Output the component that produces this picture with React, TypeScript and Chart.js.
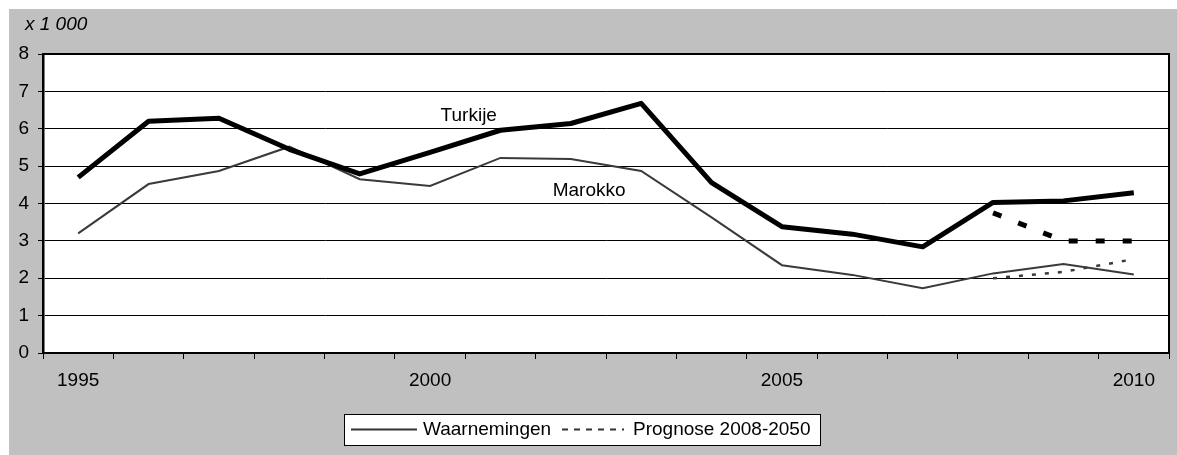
import React, { useEffect, useRef } from "react";
import { Chart, registerables } from "chart.js";

Chart.register(...registerables);

const years = [
  "1995", "1996", "1997", "1998", "1999", "2000", "2001", "2002",
  "2003", "2004", "2005", "2006", "2007", "2008", "2009", "2010",
];
const shownYearLabels = ["1995", "2000", "2005", "2010"];
const turkije = [4.7, 6.2, 6.28, 5.45, 4.79, 5.37, 5.96, 6.14, 6.68, 4.56, 3.38, 3.18, 2.84, 4.03, 4.07, 4.29];
const marokko = [3.2, 4.52, 4.87, 5.52, 4.65, 4.47, 5.22, 5.19, 4.87, 3.63, 2.35, 2.09, 1.73, 2.13, 2.38, 2.1];
const turkijePrognose = [null, null, null, null, null, null, null, null, null, null, null, null, null, 3.75, 3.0, 3.0];
const marokkoPrognose = [null, null, null, null, null, null, null, null, null, null, null, null, null, 2.0, 2.17, 2.51];
const yMin = 0;
const yMax = 8;
const yStep = 1;
const unitLabel = "x 1 000";
const seriesNames = ["Turkije", "Marokko"];
const legendLabels = ["Waarnemingen", "Prognose 2008-2050"];

const FONT_FAMILY = '"Liberation Sans", Arial, sans-serif';
const FONT_SIZE = 19;

const decorPlugin = {
  id: "decor",
  beforeDraw(chart: any) {
    const { ctx, chartArea: a, width, height } = chart;
    ctx.save();
    ctx.fillStyle = "#C0C0C0";
    ctx.fillRect(0, 0, width, height);
    ctx.fillStyle = "#FFFFFF";
    ctx.fillRect(a.left, a.top, a.right - a.left, a.bottom - a.top);
    ctx.restore();
  },
  afterDraw(chart: any) {
    const { ctx, chartArea: a, scales } = chart;
    ctx.save();
    // plot border (top & right)
    ctx.strokeStyle = "#000";
    ctx.lineWidth = 2;
    ctx.beginPath();
    ctx.moveTo(a.left, a.top);
    ctx.lineTo(a.right, a.top);
    ctx.lineTo(a.right, a.bottom);
    ctx.stroke();

    // unit label
    ctx.fillStyle = "#000";
    ctx.font = `italic ${FONT_SIZE}px ${FONT_FAMILY}`;
    ctx.textBaseline = "middle";
    ctx.textAlign = "left";
    ctx.fillText(unitLabel, 16, 16);

    // series labels
    ctx.font = `${FONT_SIZE}px ${FONT_FAMILY}`;
    ctx.textAlign = "center";
    const x = scales.x;
    const y = scales.y;
    ctx.fillText(seriesNames[0], x.getPixelForValue(5.55), y.getPixelForValue(6.34));
    ctx.fillText(seriesNames[1], x.getPixelForValue(7.26), y.getPixelForValue(4.34));

    // legend box
    ctx.fillStyle = "#FFFFFF";
    ctx.fillRect(335, 405, 476, 31);
    ctx.strokeStyle = "#000";
    ctx.lineWidth = 1;
    ctx.strokeRect(335.5, 405.5, 476, 31);

    const ly = 420.5;
    ctx.strokeStyle = "#333";
    ctx.lineWidth = 2;
    ctx.beginPath();
    ctx.moveTo(342, ly);
    ctx.lineTo(408, ly);
    ctx.stroke();
    ctx.setLineDash([6, 6]);
    ctx.beginPath();
    ctx.moveTo(553, ly);
    ctx.lineTo(615, ly);
    ctx.stroke();
    ctx.setLineDash([]);

    ctx.fillStyle = "#000";
    ctx.textAlign = "left";
    ctx.textBaseline = "middle";
    ctx.fillText(legendLabels[0], 414, ly);
    ctx.fillText(legendLabels[1], 624, ly);
    ctx.restore();
  },
};

export default function App() {
  const ref = useRef<HTMLCanvasElement | null>(null);

  useEffect(() => {
    if (!ref.current) return;
    const font = { family: FONT_FAMILY, size: FONT_SIZE };
    const chart = new Chart(ref.current, {
      type: "line",
      data: {
        labels: years,
        datasets: [
          {
            label: seriesNames[0],
            data: turkije,
            borderColor: "#000000",
            borderWidth: 5,
            pointRadius: 0,
            tension: 0,
            borderJoinStyle: "round",
          },
          {
            label: seriesNames[1],
            data: marokko,
            borderColor: "#3a3a3a",
            borderWidth: 2,
            pointRadius: 0,
            tension: 0,
          },
          {
            label: seriesNames[0] + " prognose",
            data: turkijePrognose,
            borderColor: "#000000",
            borderWidth: 5,
            borderDash: [9, 18],
            pointRadius: 0,
            tension: 0,
            spanGaps: false,
          },
          {
            label: seriesNames[1] + " prognose",
            data: marokkoPrognose,
            borderColor: "#3a3a3a",
            borderWidth: 2.5,
            borderDash: [4, 9],
            pointRadius: 0,
            tension: 0,
            spanGaps: false,
          },
        ],
      },
      options: {
        animation: false,
        responsive: false,
        devicePixelRatio: 1,
        layout: { padding: { top: 45, right: 8, left: 0, bottom: 0 } },
        plugins: {
          legend: { display: false },
          tooltip: { enabled: false },
        },
        scales: {
          x: {
            type: "category",
            offset: true,
            grid: {
              offset: true,
              drawOnChartArea: false,
              drawTicks: true,
              tickLength: 6,
              color: "#000",
              lineWidth: 1,
            },
            border: { display: true, color: "#000", width: 2 },
            ticks: {
              autoSkip: false,
              maxRotation: 0,
              padding: 10,
              color: "#000",
              font,
              callback: (_v: any, i: number) =>
                shownYearLabels.includes(years[i]) ? years[i] : "",
            },
            afterFit: (s: any) => {
              s.height = 102;
            },
          },
          y: {
            min: yMin,
            max: yMax,
            ticks: { stepSize: yStep, padding: 9, color: "#000", font },
            grid: { color: "#000", lineWidth: 1, tickLength: 5 },
            border: { display: true, color: "#000", width: 2.5 },
            afterFit: (s: any) => {
              s.width = 34;
            },
          },
        },
      },
      plugins: [decorPlugin],
    } as any);
    return () => chart.destroy();
  }, []);

  return (
    <div style={{ position: "absolute", left: 9, top: 9, width: 1168, height: 446 }}>
      <canvas ref={ref} width={1168} height={446} />
    </div>
  );
}
